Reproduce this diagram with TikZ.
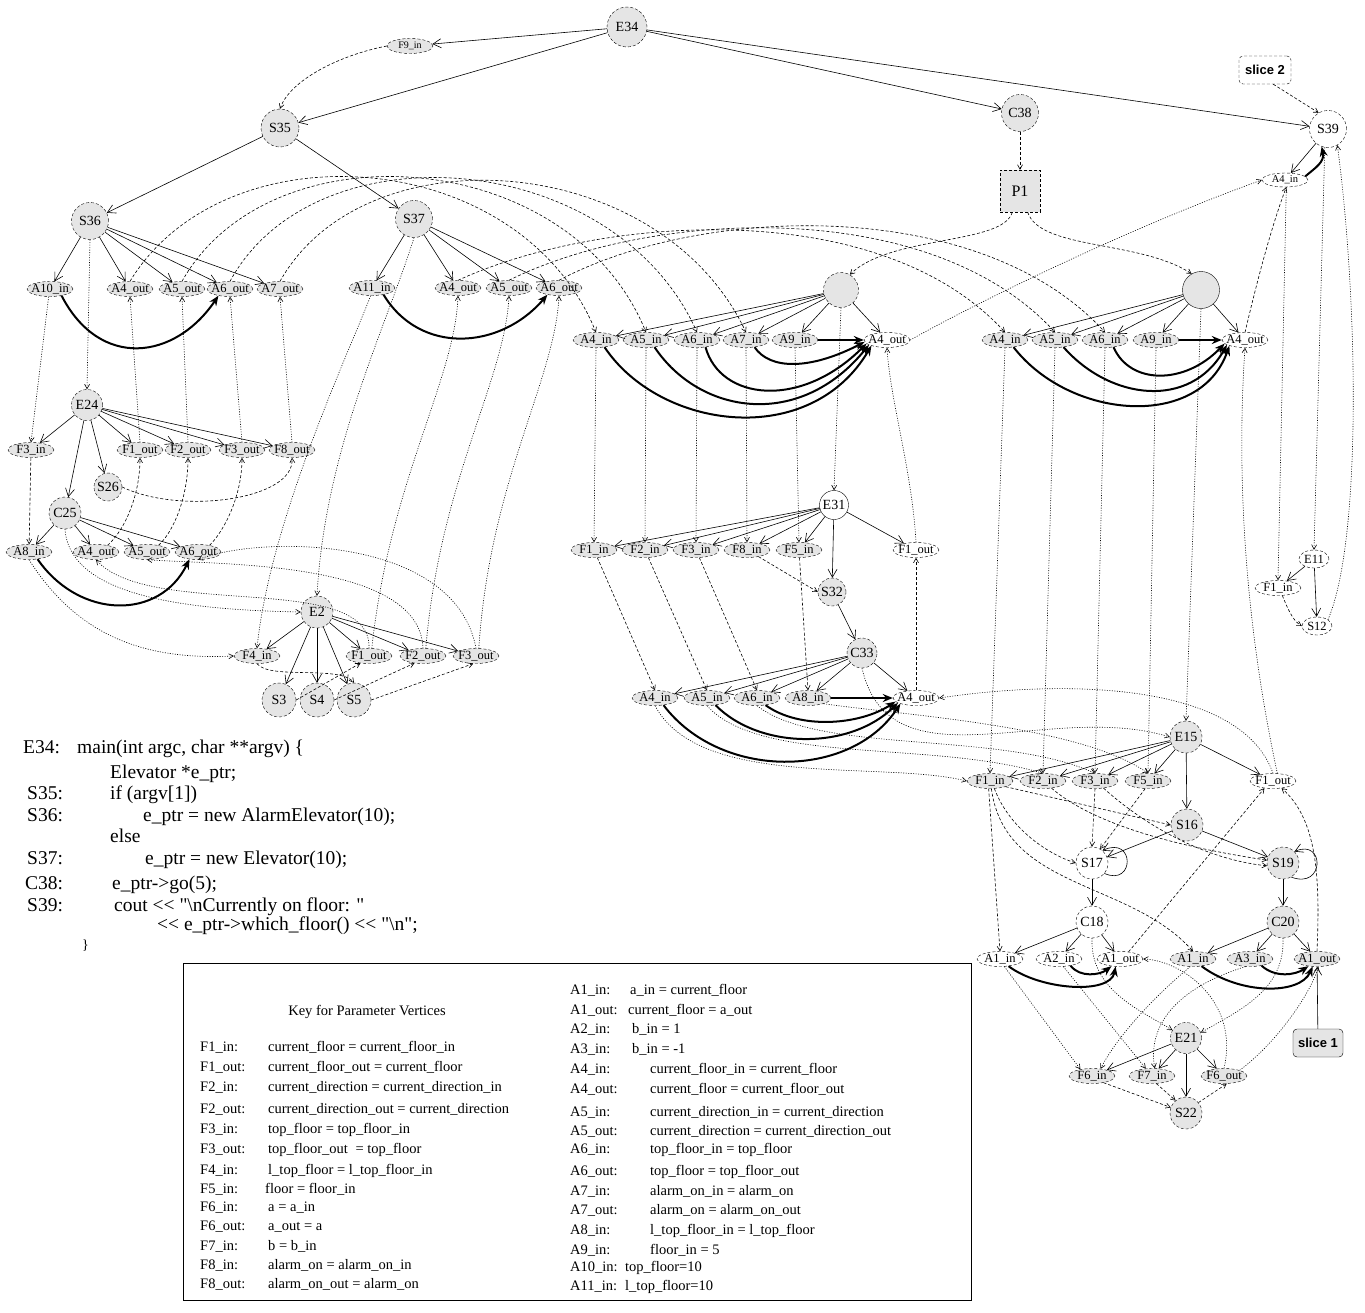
\documentclass[tikz,border=0pt]{standalone}
\usepackage{fontspec}
\setmainfont{Liberation Serif}
\newfontfamily\plainserif{Liberation Serif}
\newfontfamily\slicefont{Liberation Sans}
\usetikzlibrary{arrows.meta,shapes.geometric}
\tikzset{
  lbl/.style={inner sep=0pt,text=black},
  cg/.style={lbl,circle,draw,dash pattern=on 3pt off 2pt,fill=gray!20,minimum size=#1,font=\fontsize{14}{14}\selectfont},
  cg/.default=32pt,
  cw/.style={cg=#1,fill=white},
  cw/.default=32pt,
  eg/.style={lbl,ellipse,draw,dash pattern=on 3pt off 2pt,fill=gray!20,inner xsep=-3.5pt,inner ysep=-1pt,minimum width=46pt,minimum height=15pt,font=\fontsize{12.5}{12.5}\selectfont},
  ew/.style={eg,fill=white},
  ctl/.style={draw,line width=0.6pt,-{Straight Barb[length=8pt,width=9pt]}},
  dep/.style={draw,line width=0.6pt,dash pattern=on 3pt off 2pt,-{Straight Barb[length=4.5pt,width=5pt]}},
  par/.style={draw,line width=0.6pt,dash pattern=on 1pt off 1.5pt,-{Straight Barb[length=4.5pt,width=5pt]}},
  sum/.style={draw,line width=2pt,-{Stealth[length=10pt,width=8pt]}},
  code/.style={anchor=base west,inner sep=0pt,font=\plainserif\fontsize{19.5}{19.5}\selectfont},
  key/.style={anchor=base west,inner sep=0pt,font=\plainserif\fontsize{14.5}{14.5}\selectfont},
}
\begin{document}
\begin{tikzpicture}[x=1pt,y=-1pt]
\useasboundingbox (0,0) rectangle (1365,1312);
% ---------- top
\node[cg=40pt] (E34) at (627,27) {E34};
\node[eg,font=\fontsize{10}{10}\selectfont] (F9in) at (410,46) {F9\_in};
\node[cg=38pt] (S35) at (280,128) {S35};
\node[cg=37pt] (C38) at (1020,113) {C38};
\node[lbl,rectangle,draw,dash pattern=on 3pt off 2pt,fill=gray!20,minimum width=40pt,minimum height=42pt,font=\fontsize{16}{16}\selectfont] (P1) at (1020,191) {P1};
\node[cw=37pt] (S39) at (1328,129) {S39};
\node[lbl,rectangle,rounded corners=4pt,draw,dash pattern=on 3pt off 2pt,minimum width=52pt,minimum height=28pt,font=\slicefont\bfseries\fontsize{13}{13}\selectfont] (sl2) at (1265,70) {slice 2};
\node[ew,font=\fontsize{10.5}{10.5}\selectfont,minimum height=14pt] (s39A4in) at (1285,180) {A4\_in};
% ---------- S36 cluster
\node[cg=37pt] (S36) at (90,221) {S36};
\node[eg] (s36A10in) at (50,289) {A10\_in};
\node[eg] (s36A4out) at (130,289) {A4\_out};
\node[eg] (s36A5out) at (182,289) {A5\_out};
\node[eg] (s36A6out) at (230,289) {A6\_out};
\node[eg] (s36A7out) at (280,289) {A7\_out};
\node[cg=31pt] (E24) at (87,405) {E24};
\node[eg] (e24F3in) at (31,450) {F3\_in};
\node[eg] (e24F1out) at (140,450) {F1\_out};
\node[eg] (e24F2out) at (188,450) {F2\_out};
\node[eg] (e24F3out) at (242,450) {F3\_out};
\node[eg] (e24F8out) at (292,450) {F8\_out};
\node[cg=28pt] (S26) at (108,487) {S26};
\node[cg=32pt] (C25) at (65,513) {C25};
\node[eg] (c25A8in) at (29,552) {A8\_in};
\node[eg] (c25A4out) at (96,552) {A4\_out};
\node[eg] (c25A5out) at (147,552) {A5\_out};
\node[eg] (c25A6out) at (198,552) {A6\_out};
\node[cg=32pt] (E2) at (317,612) {E2};
\node[eg] (e2F4in) at (257,656) {F4\_in};
\node[eg] (e2F1out) at (369,656) {F1\_out};
\node[eg] (e2F2out) at (423,656) {F2\_out};
\node[eg] (e2F3out) at (476,656) {F3\_out};
\node[cg=34pt] (S3) at (279,700) {S3};
\node[cg=34pt] (S4) at (317,700) {S4};
\node[cg=34pt] (S5) at (354,700) {S5};
% ---------- S37 cluster
\node[cg=37pt] (S37) at (414,219) {S37};
\node[eg] (s37A11in) at (372,288) {A11\_in};
\node[eg] (s37A4out) at (458,288) {A4\_out};
\node[eg] (s37A5out) at (509,288) {A5\_out};
\node[eg] (s37A6out) at (559,288) {A6\_out};
% ---------- M1 cluster
\node[cg=35pt] (M1) at (841,290) {};
\node[eg] (m1A4in) at (596,340) {A4\_in};
\node[eg] (m1A5in) at (646,340) {A5\_in};
\node[eg] (m1A6in) at (697,340) {A6\_in};
\node[eg] (m1A7in) at (746,340) {A7\_in};
\node[eg] (m1A9in) at (795,340) {A9\_in};
\node[ew] (m1A4out) at (887,340) {A4\_out};
\node[lbl,circle,draw,fill=white,minimum size=29pt,font=\fontsize{14}{14}\selectfont] (E31) at (834,505) {E31};
\node[eg] (e31F1in) at (594,550) {F1\_in};
\node[eg] (e31F2in) at (645,550) {F2\_in};
\node[eg] (e31F3in) at (696,550) {F3\_in};
\node[eg] (e31F8in) at (747,550) {F8\_in};
\node[eg] (e31F5in) at (799,550) {F5\_in};
\node[ew] (e31F1out) at (916,550) {F1\_out};
\node[cg=28pt] (S32) at (832,592) {S32};
\node[cg=30pt] (C33) at (862,653) {C33};
\node[eg] (c33A4in) at (655,698) {A4\_in};
\node[eg] (c33A5in) at (707,698) {A5\_in};
\node[eg] (c33A6in) at (757,698) {A6\_in};
\node[eg] (c33A8in) at (808,698) {A8\_in};
\node[ew] (c33A4out) at (916,698) {A4\_out};
% ---------- M2 cluster
\node[lbl,circle,draw,fill=gray!20,minimum size=37pt] (M2) at (1201,290) {};
\node[eg] (m2A4in) at (1005,340) {A4\_in};
\node[eg] (m2A5in) at (1055,340) {A5\_in};
\node[eg] (m2A6in) at (1105,340) {A6\_in};
\node[eg] (m2A9in) at (1156,340) {A9\_in};
\node[ew] (m2A4out) at (1245,340) {A4\_out};
% ---------- E11 cluster
\node[ew,minimum width=30pt,minimum height=18pt] (E11) at (1314,559) {E11};
\node[ew] (e11F1in) at (1278,588) {F1\_in};
\node[ew,minimum width=30pt,minimum height=18pt] (S12) at (1317,626) {S12};
% ---------- E15 cluster
\node[cg=32pt] (E15) at (1186,737) {E15};
\node[eg] (e15F1in) at (990,781) {F1\_in};
\node[eg] (e15F2in) at (1043,781) {F2\_in};
\node[eg] (e15F3in) at (1095,781) {F3\_in};
\node[eg] (e15F5in) at (1148,781) {F5\_in};
\node[ew] (e15F1out) at (1273,781) {F1\_out};
\node[cg=32pt] (S16) at (1187,825) {S16};
\node[cw=32pt] (S17) at (1092,863) {S17};
\node[cg=32pt] (S19) at (1283,863) {S19};
\node[cw=32pt] (C18) at (1092,922) {C18};
\node[cg=32pt] (C20) at (1283,922) {C20};
\node[ew] (c18A1in) at (1000,959) {A1\_in};
\node[ew] (c18A2in) at (1059,959) {A2\_in};
\node[ew] (c18A1out) at (1120,959) {A1\_out};
\node[eg] (c20A1in) at (1193,959) {A1\_in};
\node[eg] (c20A3in) at (1250,959) {A3\_in};
\node[eg] (c20A1out) at (1317,959) {A1\_out};
\node[lbl,rectangle,rounded corners=4pt,draw,fill=gray!20,minimum width=50pt,minimum height=28pt,font=\slicefont\bfseries\fontsize{13}{13}\selectfont] (sl1) at (1318,1043) {slice 1};
\node[cg=31pt] (E21) at (1186,1038) {E21};
\node[eg] (e21F6in) at (1092,1076) {F6\_in};
\node[eg] (e21F7in) at (1152,1076) {F7\_in};
\node[eg] (e21F6out) at (1224,1076) {F6\_out};
\node[cg=32pt] (S22) at (1186,1113) {S22};

% ========== control edges
\foreach \a/\b in {E34/F9in,E34/S35,E34/C38,E34/S39,S35/S36,S35/S37,
  S36/s36A10in,S36/s36A4out,S36/s36A5out,S36/s36A6out,S36/s36A7out,
  E24/e24F3in,E24/e24F1out,E24/e24F2out,E24/e24F3out,E24/e24F8out,E24/S26,E24/C25,
  C25/c25A8in,C25/c25A4out,C25/c25A5out,C25/c25A6out,
  E2/e2F4in,E2/S3,E2/S4,E2/S5,E2/e2F1out,E2/e2F2out,E2/e2F3out,
  S37/s37A11in,S37/s37A4out,S37/s37A5out,S37/s37A6out,
  M1/m1A4in,M1/m1A5in,M1/m1A6in,M1/m1A7in,M1/m1A9in,M1/m1A4out,
  E31/e31F1in,E31/e31F2in,E31/e31F3in,E31/e31F8in,E31/e31F5in,E31/S32,E31/e31F1out,
  S32/C33,C33/c33A4in,C33/c33A5in,C33/c33A6in,C33/c33A8in,C33/c33A4out,
  M2/m2A4in,M2/m2A5in,M2/m2A6in,M2/m2A9in,M2/m2A4out,
  S39/s39A4in,E11/e11F1in,E11/S12,
  E15/e15F1in,E15/e15F2in,E15/e15F3in,E15/e15F5in,E15/S16,E15/e15F1out,
  S16/S17,S16/S19,S17/C18,S19/C20,
  C18/c18A1in,C18/c18A2in,C18/c18A1out,C20/c20A1in,C20/c20A3in,C20/c20A1out,
  sl1/c20A1out,E21/e21F6in,E21/e21F7in,E21/S22,E21/e21F6out}
  \draw[ctl] (\a) -- (\b);
\draw[ctl] (S17.-40) .. controls (1135,887) and (1135,835) .. (S17.50);
\draw[ctl] (S19.-60) .. controls (1325,890) and (1325,838) .. (S19.45);

% ========== summary edges
\draw[sum] (s36A10in.-30) .. controls (100,370) and (175,360) .. (s36A6out.-150);
\draw[sum] (c25A8in.-40) .. controls (80,620) and (160,620) .. (c25A6out.-140);
\draw[sum] (s37A11in.-30) .. controls (420,355) and (500,350) .. (s37A6out.-150);
\draw[sum] (m1A4in.-40) .. controls (660,430) and (810,450) .. (m1A4out.200);
\draw[sum] (m1A5in.-40) .. controls (700,415) and (800,430) .. (m1A4out.195);
\draw[sum] (m1A6in.-40) .. controls (720,400) and (800,410) .. (m1A4out.190);
\draw[sum] (m1A7in.-40) .. controls (770,370) and (810,370) .. (m1A4out.185);
\draw[sum] (m1A9in) -- (m1A4out.180);
\draw[sum] (c33A4in.-40) .. controls (720,780) and (850,780) .. (c33A4out.200);
\draw[sum] (c33A5in.-40) .. controls (760,750) and (850,750) .. (c33A4out.195);
\draw[sum] (c33A6in.-40) .. controls (800,730) and (860,725) .. (c33A4out.190);
\draw[sum] (c33A8in) -- (c33A4out.180);
\draw[sum] (m2A4in.-40) .. controls (1070,420) and (1200,430) .. (m2A4out.200);
\draw[sum] (m2A5in.-40) .. controls (1110,400) and (1190,410) .. (m2A4out.195);
\draw[sum] (m2A6in.-40) .. controls (1130,385) and (1185,385) .. (m2A4out.190);
\draw[sum] (m2A9in) -- (m2A4out.180);
\draw[sum] (s39A4in.10) .. controls (1315,168) and (1325,162) .. (S39.-110);
\draw[sum] (c18A1in.-40) .. controls (1040,990) and (1110,995) .. (c18A1out.-120);
\draw[sum] (c18A2in.-30) .. controls (1080,978) and (1100,975) .. (c18A1out.-140);
\draw[sum] (c20A1in.-40) .. controls (1240,995) and (1300,995) .. (c20A1out.-120);
\draw[sum] (c20A3in.-30) .. controls (1275,978) and (1295,975) .. (c20A1out.-140);

% ========== data dependence (dashed)
\draw[dep] (F9in.west) .. controls (340,55) and (290,80) .. (S35.north);
\draw[dep] (C38) -- (P1);
\draw[dep] (P1.-110) .. controls (1003,245) and (890,235) .. (M1.60);
\draw[dep] (P1.-70) .. controls (1040,250) and (1140,240) .. (M2.120);
\draw[dep] (sl2.-60) -- (S39.120);
\draw[dep] (e24F3in) -- (c25A8in);
\draw[dep] (S26.east) .. controls (180,515) and (295,500) .. (e24F8out.south);
\draw[dep] (c25A4out.30) .. controls (125,530) and (140,495) .. (e24F1out.south);
\draw[dep] (c25A5out.30) .. controls (175,530) and (188,495) .. (e24F2out.south);
\draw[dep] (c25A6out.30) .. controls (225,530) and (242,495) .. (e24F3out.south);
\draw[dep] (e2F4in.south) .. controls (270,680) and (340,665) .. (S5.north);
\draw[dep] (S3.east) -- (e2F1out.-140);
\draw[dep] (S4.east) -- (e2F2out.-140);
\draw[dep] (S5.east) -- (e2F3out.-110);
\draw[dep] (s36A4out.north) .. controls (225,125) and (520,145) .. (m1A4in.north);
\draw[dep] (s36A5out.north) .. controls (270,125) and (570,145) .. (m1A5in.north);
\draw[dep] (s36A6out.north) .. controls (315,125) and (615,148) .. (m1A6in.north);
\draw[dep] (s36A7out.north) .. controls (365,130) and (660,150) .. (m1A7in.north);
\draw[dep] (s37A4out.north) .. controls (600,215) and (880,195) .. (m2A4in.north);
\draw[dep] (s37A5out.north) .. controls (650,210) and (930,195) .. (m2A5in.north);
\draw[dep] (s37A6out.north) .. controls (700,205) and (980,195) .. (m2A6in.north);
\draw[dep] (m2A4out.north) .. controls (1255,290) and (1270,230) .. (s39A4in.-80);
\draw[dep] (e31F8in.-30) -- (S32.west);
\draw[dep] (e31F1in) -- (c33A4in.north);
\draw[dep] (e31F2in) -- (c33A5in.north);
\draw[dep] (e31F3in) -- (c33A6in.north);
\draw[dep] (e31F5in) -- (c33A8in.north);
\draw[dep] (c33A4out.north) -- (e31F1out.south);
\draw[dep] (e11F1in.-60) .. controls (1290,615) and (1295,622) .. (S12.west);
% E15 internals
\draw[dep] (e15F1in.-20) -- (S16.west);
\draw[dep] (e15F1in.-60) .. controls (1010,830) and (1050,855) .. (S17.west);
\draw[dep] (e15F1in.-100) -- (c18A1in.north);
\draw[dep] (e15F1in.-80) .. controls (1005,890) and (1130,880) .. (c20A1in.north);
\draw[dep] (e15F2in.-40) .. controls (1100,830) and (1200,850) .. (S19.170);
\draw[dep] (e15F3in.-90) -- (S17.north);
\draw[dep] (e15F3in.-40) .. controls (1150,830) and (1210,860) .. (S19.190);
\draw[dep] (e15F5in.-110) -- (S17.60);
\draw[dep] (c18A1out.40) -- (e15F1out.-140);
\draw[dep] (c20A1out.north) .. controls (1320,880) and (1318,820) .. (e15F1out.-40);
\draw[dep] (e21F6in.-30) -- (S22.160);
\draw[dep] (e21F7in.-60) -- (S22.130);
\draw[dep] (S22.40) -- (e21F6out.-70);

% ========== parameter / call edges (dotted)
\draw[par] (S36.south) -- (E24.north);
\draw[par] (s36A10in.-100) -- (e24F3in.north);
\draw[par] (e24F1out.north) -- (s36A4out.south);
\draw[par] (e24F2out.north) -- (s36A5out.south);
\draw[par] (e24F3out.north) -- (s36A6out.south);
\draw[par] (e24F8out.north) -- (s36A7out.south);
\draw[par] (C25.south) .. controls (70,600) and (200,610) .. (E2.west);
\draw[par] (c25A8in.south) .. controls (80,640) and (150,660) .. (e2F4in.west);
\draw[par] (e2F1out.north) .. controls (372,570) and (150,620) .. (c25A4out.south);
\draw[par] (e2F2out.north) .. controls (420,560) and (220,565) .. (c25A5out.south);
\draw[par] (e2F3out.north) .. controls (455,535) and (260,535) .. (c25A6out.south);
\draw[par] (S37.south) .. controls (385,330) and (325,450) .. (E2.north);
\draw[par] (s37A11in.-100) .. controls (350,350) and (270,520) .. (e2F4in.north);
\draw[par] (e2F1out.70) .. controls (390,480) and (455,380) .. (s37A4out.south);
\draw[par] (e2F2out.70) .. controls (440,480) and (505,380) .. (s37A5out.south);
\draw[par] (e2F3out.70) .. controls (490,480) and (555,380) .. (s37A6out.south);
\draw[par] (M1.south) -- (E31.north);
\draw[par] (m1A4in.south) -- (e31F1in.north);
\draw[par] (m1A5in.south) -- (e31F2in.north);
\draw[par] (m1A6in.south) -- (e31F3in.north);
\draw[par] (m1A7in.south) -- (e31F8in.north);
\draw[par] (m1A9in.south) -- (e31F5in.north);
\draw[par] (e31F1out.north) .. controls (912,470) and (890,400) .. (m1A4out.south);
\draw[par] (m1A4out.east) .. controls (1000,290) and (1150,220) .. (s39A4in.west);
\draw[par] (C33.south) .. controls (890,790) and (1050,700) .. (E15.west);
\draw[par] (c33A4in.south) .. controls (700,790) and (880,760) .. (e15F1in.west);
\draw[par] (c33A5in.south) .. controls (760,765) and (930,740) .. (e15F2in.north);
\draw[par] (c33A6in.south) .. controls (820,755) and (1000,730) .. (e15F3in.north);
\draw[par] (c33A8in.-20) .. controls (900,715) and (1080,725) .. (e15F5in.north);
\draw[par] (e15F1out.north) .. controls (1240,680) and (1060,680) .. (c33A4out.east);
\draw[par] (M2.south) -- (E15.north);
\draw[par] (m2A4in.south) -- (e15F1in.north);
\draw[par] (m2A5in.south) -- (e15F2in.north);
\draw[par] (m2A6in.south) -- (e15F3in.north);
\draw[par] (m2A9in.south) -- (e15F5in.north);
\draw[par] (e15F1out.60) .. controls (1240,600) and (1238,450) .. (m2A4out.south);
\draw[par] (S39.-100) -- (E11.north);
\draw[par] (s39A4in.-80) -- (e11F1in.north);
\draw[par] (S12.30) .. controls (1362,540) and (1358,300) .. (S39.-60);
\draw[par] (C18.south) .. controls (1090,990) and (1140,1010) .. (E21.150);
\draw[par] (C20.south) .. controls (1285,990) and (1240,1010) .. (E21.20);
\draw[par] (c18A1in.-60) -- (e21F6in.150);
\draw[par] (c18A2in.-60) -- (e21F7in.130);
\draw[par] (c20A1in.-110) .. controls (1150,1000) and (1115,1040) .. (e21F6in.40);
\draw[par] (c20A3in.-120) .. controls (1170,990) and (1148,1030) .. (e21F7in.70);
\draw[par] (e21F6out.north) .. controls (1240,1000) and (1180,960) .. (c18A1out.east);
\draw[par] (e21F6out.20) .. controls (1280,1040) and (1312,990) .. (c20A1out.-80);

% ========== code text
\node[code] at (23,753) {E34:};
\node[code] at (77,753) {main(int argc, char **argv) \{};
\node[code] at (110,778) {Elevator *e\_ptr;};
\node[code] at (27,799) {S35:};
\node[code] at (110,799) {if (argv[1])};
\node[code] at (27,821) {S36:};
\node[code] at (143,821) {e\_ptr = new AlarmElevator(10);};
\node[code] at (110,842) {else};
\node[code] at (27,864) {S37:};
\node[code] at (145,864) {e\_ptr = new Elevator(10);};
\node[code] at (25,889) {C38:};
\node[code] at (112,889) {e\_ptr->go(5);};
\node[code] at (27,911) {S39:};
\node[code] at (114,911) {cout << "\textbackslash nCurrently on floor: "};
\node[code] at (157,930) {<< e\_ptr->which\_floor() << "\textbackslash n";};
\node[code,font=\plainserif\fontsize{14}{14}\selectfont] at (82,949) {\}};

% ========== key box
\draw[line width=0.6pt] (183,963) rectangle (971,1300);
\node[key,anchor=base] at (367,1015) {Key for Parameter Vertices};
\node[key] at (200,1051) {F1\_in:};  \node[key] at (268,1051) {current\_floor = current\_floor\_in};
\node[key] at (200,1071) {F1\_out:}; \node[key] at (268,1071) {current\_floor\_out = current\_floor};
\node[key] at (200,1091) {F2\_in:};  \node[key] at (268,1091) {current\_direction = current\_direction\_in};
\node[key] at (200,1113) {F2\_out:}; \node[key] at (268,1113) {current\_direction\_out = current\_direction};
\node[key] at (200,1133) {F3\_in:};  \node[key] at (268,1133) {top\_floor = top\_floor\_in};
\node[key] at (200,1153.5) {F3\_out:}; \node[key] at (268,1153.5) {top\_floor\_out\kern4pt\ {=}\ top\_floor};
\node[key] at (200,1174) {F4\_in:};  \node[key] at (268,1174) {l\_top\_floor = l\_top\_floor\_in};
\node[key] at (200,1193) {F5\_in:};  \node[key] at (265,1193) {floor = floor\_in};
\node[key] at (200,1211) {F6\_in:};  \node[key] at (268,1211) {a = a\_in};
\node[key] at (200,1230) {F6\_out:}; \node[key] at (268,1230) {a\_out = a};
\node[key] at (200,1250) {F7\_in:};  \node[key] at (268,1250) {b = b\_in};
\node[key] at (200,1269) {F8\_in:};  \node[key] at (268,1269) {alarm\_on = alarm\_on\_in};
\node[key] at (200,1288) {F8\_out:}; \node[key] at (268,1288) {alarm\_on\_out = alarm\_on};
\node[key] at (570,994) {A1\_in:};   \node[key] at (630,994) {a\_in = current\_floor};
\node[key] at (570,1014) {A1\_out:}; \node[key] at (628,1014) {current\_floor = a\_out};
\node[key] at (570,1033) {A2\_in:};  \node[key] at (632,1033) {b\_in = 1};
\node[key] at (570,1053) {A3\_in:};  \node[key] at (632,1053) {b\_in = -1};
\node[key] at (570,1073) {A4\_in:};  \node[key] at (650,1073) {current\_floor\_in = current\_floor};
\node[key] at (570,1093) {A4\_out:}; \node[key] at (650,1093) {current\_floor = current\_floor\_out};
\node[key] at (570,1116) {A5\_in:};  \node[key] at (650,1116) {current\_direction\_in = current\_direction};
\node[key] at (570,1135) {A5\_out:}; \node[key] at (650,1135) {current\_direction = current\_direction\_out};
\node[key] at (570,1153) {A6\_in:};  \node[key] at (650,1153) {top\_floor\_in = top\_floor};
\node[key] at (570,1175) {A6\_out:}; \node[key] at (650,1175) {top\_floor = top\_floor\_out};
\node[key] at (570,1195) {A7\_in:};  \node[key] at (650,1195) {alarm\_on\_in = alarm\_on};
\node[key] at (570,1214) {A7\_out:}; \node[key] at (650,1214) {alarm\_on = alarm\_on\_out};
\node[key] at (570,1234) {A8\_in:};  \node[key] at (650,1234) {l\_top\_floor\_in = l\_top\_floor};
\node[key] at (570,1254) {A9\_in:};  \node[key] at (650,1254) {floor\_in = 5};
\node[key] at (570,1271) {A10\_in:}; \node[key] at (625,1271) {top\_floor=10};
\node[key] at (570,1290) {A11\_in:}; \node[key] at (625,1290) {l\_top\_floor=10};
\end{tikzpicture}
\end{document}
